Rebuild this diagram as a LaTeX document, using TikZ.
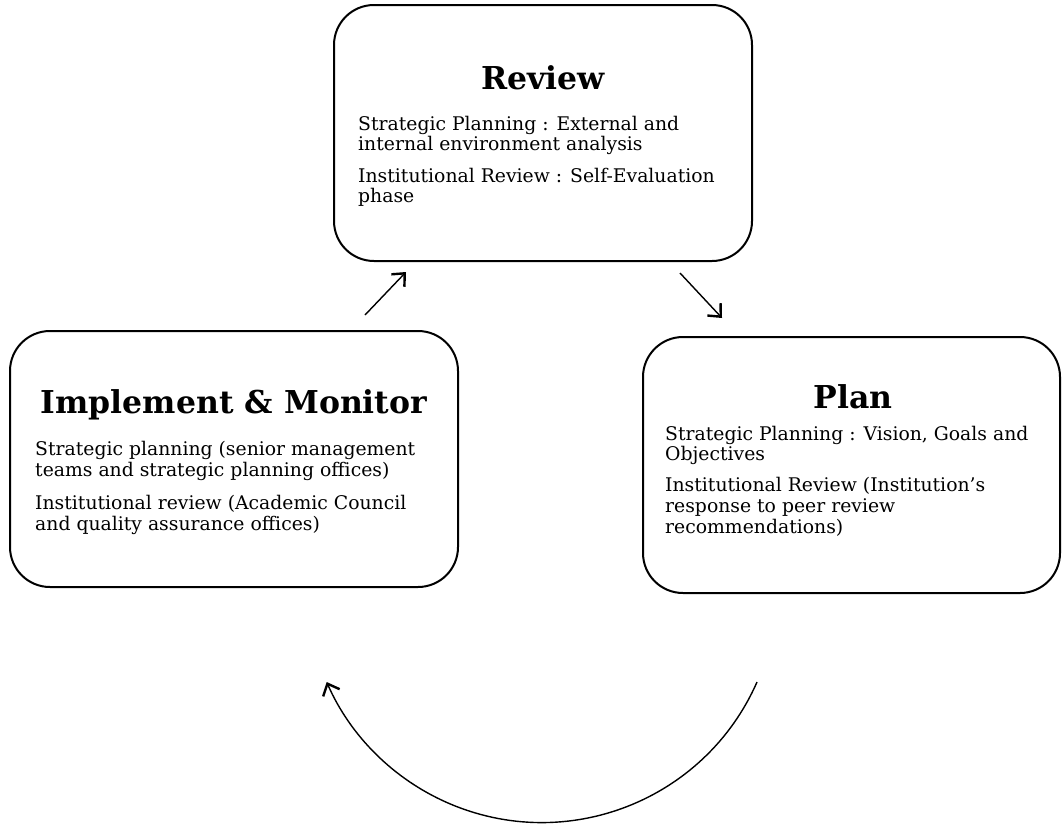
\documentclass[tikz,border=0pt]{standalone}
\usepackage{fontspec}
\setmainfont{DejaVu Serif}
\usetikzlibrary{arrows.meta}
\tikzset{
  box/.style={draw, line width=2pt, rounded corners=40pt, inner sep=0pt},
  ttl/.style={font=\fontsize{31.5}{36}\selectfont\bfseries, anchor=base, inner sep=0pt},
  txt/.style={font=\fontsize{18.8}{22}\selectfont, anchor=base west, inner sep=0pt},
  arr/.style={line width=1.4pt, -{Straight Barb[length=10pt,width=18pt,line width=2.4pt]}}
}
\begin{document}
\begin{tikzpicture}[x=1pt,y=-1pt]
\useasboundingbox (0,0) rectangle (1062,825);
% boxes
\node[box, minimum width=418pt, minimum height=256pt] (review) at (543,133) {};
\node[box, minimum width=448pt, minimum height=256pt] (impl) at (234,459) {};
\node[box, minimum width=417pt, minimum height=256pt] (plan) at (851.5,465) {};
% titles
\node[ttl] (reviewT) at (543,89) {Review};
\node[ttl] (implT) at (234,413) {Implement \& Monitor};
\node[ttl] (planT) at (853,408) {Plan};
% review text
\node[txt] (r1) at (358,130) {Strategic Planning : External and};
\node[txt] (r2) at (358,150) {internal environment analysis};
\node[txt] (r3) at (358,182) {Institutional Review : Self-Evaluation};
\node[txt] (r4) at (358,202) {phase};
% implement text
\node[txt] (i1) at (35,455) {Strategic planning (senior management};
\node[txt] (i2) at (35,476) {teams and strategic planning offices)};
\node[txt] (i3) at (35,509) {Institutional review (Academic Council};
\node[txt] (i4) at (35,530) {and quality assurance offices)};
% plan text
\node[txt] (p1) at (665,440) {Strategic Planning : Vision, Goals and};
\node[txt] (p2) at (665,460) {Objectives};
\node[txt] (p3) at (665,491) {Institutional Review (Institution’s};
\node[txt] (p4) at (665,512) {response to peer review};
\node[txt] (p5) at (665,533) {recommendations)};
% arrows
\coordinate (a1s) at (365,315);
\coordinate (a1e) at (406,272);
\draw[arr] (a1s) -- (a1e);
\coordinate (a2s) at (680,273);
\coordinate (a2e) at (722,318);
\draw[arr] (a2s) -- (a2e);
\coordinate (a3s) at (757,682);
\draw[arr] (a3s) arc[start angle=23.7, end angle=156.3, radius=235];
\end{tikzpicture}
\end{document}
